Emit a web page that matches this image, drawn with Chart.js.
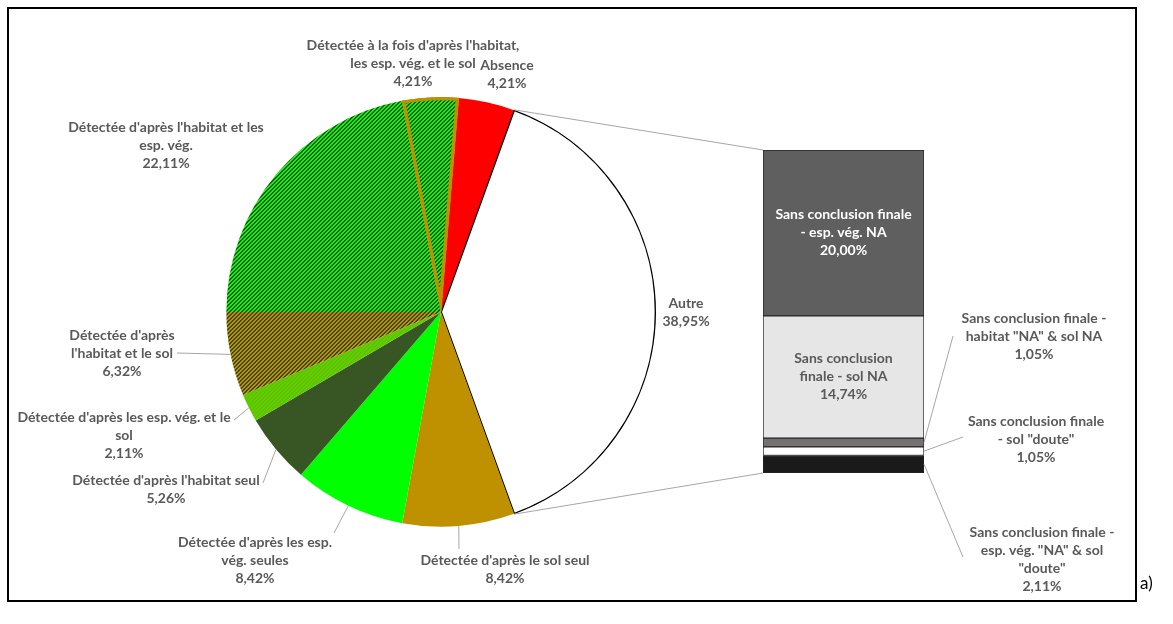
<!DOCTYPE html>
<html>
<head>
<meta charset="utf-8">
<script src="https://cdn.jsdelivr.net/npm/chart.js@4.4.1/dist/chart.umd.min.js"></script>
<style>
  body { margin: 0; background: #fff; }
  #wrap { position: relative; width: 1173px; height: 624px; }
  #frame { position: absolute; left: 7px; top: 7px; width: 1126px; height: 591px; border: 2px solid #000; }
  canvas { position: absolute; left: 0; top: 0; }
  #tag { position: absolute; left: 1140px; top: 572px; font: 17px Lato, sans-serif; color: #000; }
</style>
</head>
<body>
<div id="wrap">
  <div id="frame"></div>
  <canvas id="pie" width="1173" height="624"></canvas>
  <canvas id="bar" width="1173" height="624"></canvas>
  <div id="tag">a)</div>
</div>
<script>
// pie categories, clockwise starting just right of 12 o'clock
const pieLabels = [
    'Absence',
    'Autre',
    "Détectée d'après le sol seul",
    "Détectée d'après les esp. vég. seules",
    "Détectée d'après l'habitat seul",
    "Détectée d'après les esp. vég. et le sol",
    "Détectée d'après l'habitat et le sol",
    "Détectée d'après l'habitat et les esp. vég.",
    "Détectée à la fois d'après l'habitat, les esp. vég. et le sol"
];
const pieValues = [4.21, 38.95, 8.42, 8.42, 5.26, 2.11, 6.32, 22.11, 4.21];

// breakdown of "Autre", bottom to top
const barLabels = [
    'Sans conclusion finale - esp. vég. "NA" & sol "doute"',
    'Sans conclusion finale - sol "doute"',
    'Sans conclusion finale - habitat "NA" & sol NA',
    'Sans conclusion finale - sol NA',
    'Sans conclusion finale - esp. vég. NA'
];
const barValues = [2.11, 1.05, 1.05, 14.74, 20.00];

const textColor = '#595959';
const leaderColor = '#a6a6a6';
const lineH = 18;
const font = 'bold 14px Lato';

const fmt = (v) => v.toFixed(2).replace('.', ',') + '%';

const drawLines = (ctx, lines, x, y, color) => {
    ctx.save();
    ctx.fillStyle = color;
    ctx.font = font;
    ctx.textAlign = 'center';
    ctx.textBaseline = 'middle';
    lines.forEach((t, i) => ctx.fillText(t, x, y + i * lineH));
    ctx.restore();
};

const drawLine = (ctx, x1, y1, x2, y2) => {
    ctx.save();
    ctx.strokeStyle = leaderColor;
    ctx.lineWidth = 1;
    ctx.beginPath();
    ctx.moveTo(x1, y1);
    ctx.lineTo(x2, y2);
    ctx.stroke();
    ctx.restore();
};

const pieCtx = document.getElementById('pie').getContext('2d');

// Excel style diagonal hatch
const hatch = (bg, fg) => {
    const c = document.createElement('canvas');
    c.width = 8; c.height = 8;
    const g = c.getContext('2d');
    g.fillStyle = bg;
    g.fillRect(0, 0, 8, 8);
    g.fillStyle = fg;
    for (let y = 0; y < 8; y++) {
        for (let x = 0; x < 8; x++) {
            if ((x + y) % 4 < 2) g.fillRect(x, y, 1, 1);
        }
    }
    return pieCtx.createPattern(c, 'repeat');
};

const pieColors = [
    '#ff0000', '#ffffff', '#bf9000', '#00ff00', '#375623',
    hatch('#00ff00', '#bf9000'),
    hatch('#bf9000', '#3b4a1f'),
    hatch('#00ff00', '#2f5020'),
    hatch('#00ff00', '#2f5020')
];
const pieBorderColors = ['#ff0000', '#000000', '#bf9000', '#00ff00', '#375623', '#00ff00', '#bf9000', '#00ff00', '#bf9000'];
const pieBorderWidths = [0, 1, 0, 0, 0, 0, 0, 0, 3];

// label text + placement for each slice (lines above the percentage)
const pieLabelLayout = [
    { lines: ['Absence'], x: 507, y: 65 },
    { lines: ['Autre'], x: 686, y: 303 },
    { lines: ["Détectée d'après le sol seul"], x: 505, y: 560, anchor: [459, 549] },
    { lines: ["Détectée d'après les esp.", 'vég. seules'], x: 255, y: 542, anchor: [334, 533] },
    { lines: ["Détectée d'après l'habitat seul"], x: 166, y: 480, anchor: [263, 483] },
    { lines: ["Détectée d'après les esp. vég. et le", 'sol'], x: 124, y: 417, anchor: [234, 420] },
    { lines: ["Détectée d'après", "l'habitat et le sol"], x: 122, y: 335, anchor: [177, 353] },
    { lines: ["Détectée d'après l'habitat et les", 'esp. vég.'], x: 166, y: 127 },
    { lines: ["Détectée à la fois d'après l'habitat,", 'les esp. vég. et le sol'], x: 413, y: 45 }
];

const pieTotal = pieValues.reduce((a, b) => a + b, 0);
// centre the "Autre" slice on 3 o'clock
const pieRotation = 90 - (pieValues[1] / pieTotal * 360) / 2 - (pieValues[0] / pieTotal * 360);

const pieLabelPlugin = {
    id: 'pieLabels',
    afterDatasetsDraw(chart) {
        const ctx = chart.ctx;
        const meta = chart.getDatasetMeta(0);
        meta.data.forEach((arc, i) => {
            const L = pieLabelLayout[i];
            if (L.anchor) {
                const mid = (arc.startAngle + arc.endAngle) / 2;
                const px = arc.x + arc.outerRadius * Math.cos(mid);
                const py = arc.y + arc.outerRadius * Math.sin(mid);
                drawLine(ctx, L.anchor[0], L.anchor[1], px, py);
            }
            drawLines(ctx, [...L.lines, fmt(pieValues[i])], L.x, L.y, textColor);
        });
    }
};

const pieChart = new Chart(pieCtx, {
    type: 'pie',
    data: {
        labels: pieLabels,
        datasets: [{
            data: pieValues,
            backgroundColor: pieColors,
            borderColor: pieBorderColors,
            borderWidth: pieBorderWidths,
            borderAlign: 'inner'
        }]
    },
    options: {
        responsive: false,
        animation: false,
        events: [],
        rotation: pieRotation,
        radius: 215,
        layout: { padding: { left: 226, right: 517, top: 97, bottom: 97 } },
        plugins: { legend: { display: false }, tooltip: { enabled: false } }
    },
    plugins: [pieLabelPlugin]
});

const barColors = ['#1a1a1a', '#ffffff', '#767171', '#e6e6e6', '#5f5f5f'];
const barTotal = barValues.reduce((a, b) => a + b, 0);

const barInside = {
    3: { lines: ['Sans conclusion', 'finale - sol NA'], color: textColor },
    4: { lines: ['Sans conclusion finale', '- esp. vég. NA'], color: '#ffffff' }
};
const barOutside = {
    0: { lines: ['Sans conclusion finale -', 'esp. vég. "NA" & sol', '"doute"'], x: 1042, y: 532, anchor: [963, 557] },
    1: { lines: ['Sans conclusion finale', '- sol "doute"'], x: 1036, y: 421, anchor: [963, 437] },
    2: { lines: ['Sans conclusion finale -', 'habitat "NA" & sol NA'], x: 1034, y: 318, anchor: [953, 336] }
};

const barLabelPlugin = {
    id: 'barLabels',
    afterDatasetsDraw(chart) {
        const ctx = chart.ctx;
        barValues.forEach((v, i) => {
            const el = chart.getDatasetMeta(i).data[0];
            const midY = (el.y + el.base) / 2;
            if (barInside[i]) {
                const lines = [...barInside[i].lines, fmt(v)];
                drawLines(ctx, lines, el.x, midY - lineH * (lines.length - 1) / 2, barInside[i].color);
            }
            if (barOutside[i]) {
                const L = barOutside[i];
                drawLine(ctx, L.anchor[0], L.anchor[1], el.x + el.width / 2, midY);
                drawLines(ctx, [...L.lines, fmt(v)], L.x, L.y, textColor);
            }
        });
        // connector lines from the "Autre" slice to the bar
        const autre = pieChart.getDatasetMeta(0).data[1];
        const top = chart.getDatasetMeta(barValues.length - 1).data[0];
        const bottom = chart.getDatasetMeta(0).data[0];
        const r = autre.outerRadius;
        drawLine(ctx, autre.x + r * Math.cos(autre.startAngle), autre.y + r * Math.sin(autre.startAngle),
            top.x - top.width / 2, top.y);
        drawLine(ctx, autre.x + r * Math.cos(autre.endAngle), autre.y + r * Math.sin(autre.endAngle),
            bottom.x - bottom.width / 2, bottom.base);
    }
};

new Chart(document.getElementById('bar'), {
    type: 'bar',
    data: {
        labels: ['Autre'],
        datasets: barLabels.map((l, i) => ({
            label: l,
            data: [barValues[i]],
            backgroundColor: barColors[i],
            borderColor: '#262626',
            borderWidth: 1,
            borderSkipped: false,
            barPercentage: 1,
            categoryPercentage: 1
        }))
    },
    options: {
        responsive: false,
        animation: false,
        events: [],
        layout: { padding: { left: 763, right: 249, top: 150, bottom: 151 } },
        scales: {
            x: { display: false, stacked: true },
            y: { display: false, stacked: true, min: 0, max: barTotal }
        },
        plugins: { legend: { display: false }, tooltip: { enabled: false } }
    },
    plugins: [barLabelPlugin]
});
</script>
</body>
</html>
